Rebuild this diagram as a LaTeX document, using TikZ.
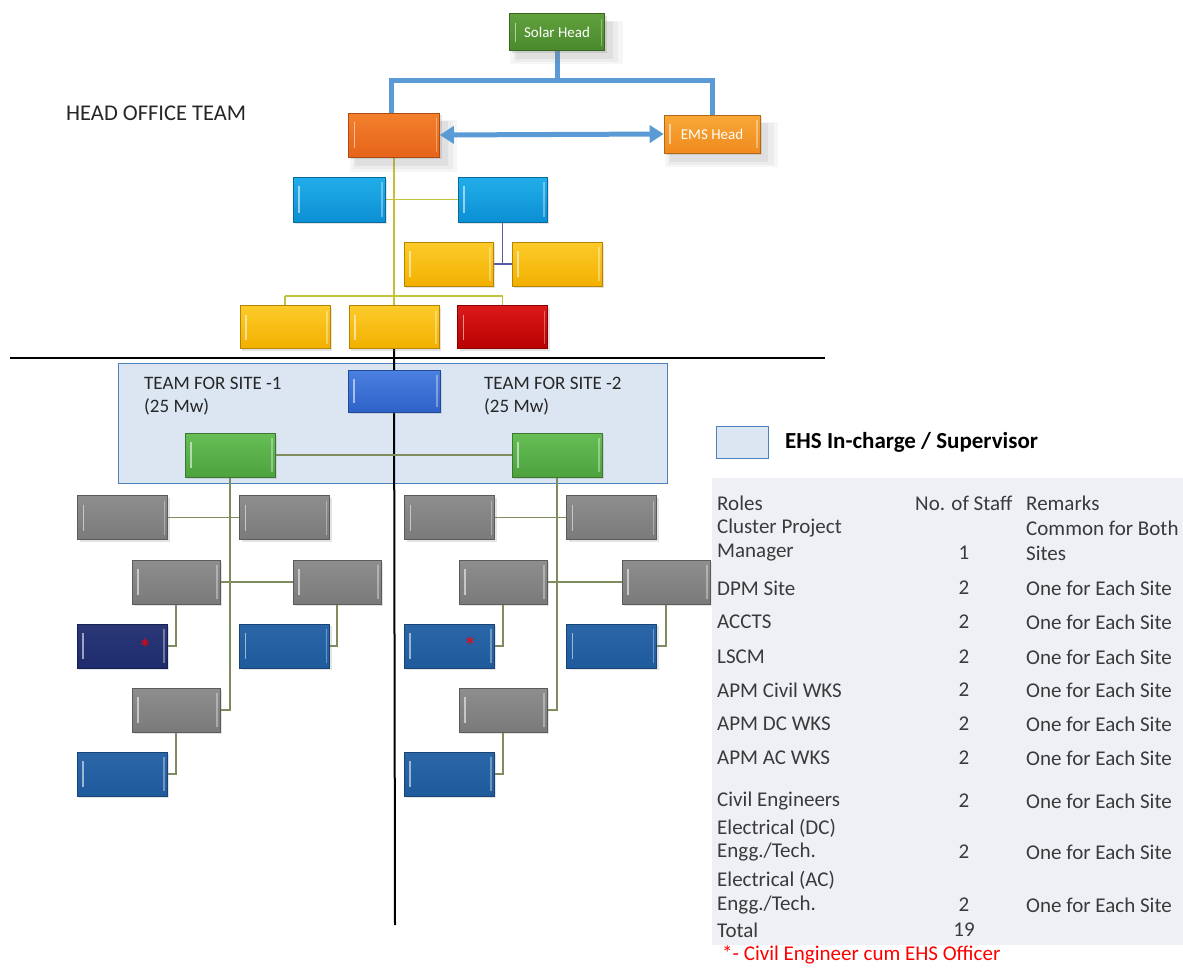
\documentclass[tikz,border=0pt]{standalone}
\usepackage{fontspec}
\setmainfont{Carlito}
\usetikzlibrary{arrows.meta,shadows}
\definecolor{conblue}{HTML}{5B9BD5}
\definecolor{ylline}{HTML}{C2C23A}
\definecolor{siteline}{HTML}{7F8C5E}
\definecolor{ehsfill}{HTML}{DCE6F2}
\definecolor{ehsdraw}{HTML}{4F81BD}
\definecolor{tabbg}{HTML}{EEF0F5}
\definecolor{tabtext}{HTML}{3A3A3A}
\definecolor{cyanA}{HTML}{22AEEA}\definecolor{cyanB}{HTML}{0B8FD3}
\definecolor{yelA}{HTML}{FDCB2A}\definecolor{yelB}{HTML}{F2B000}
\definecolor{redA}{HTML}{DC1A1A}\definecolor{redB}{HTML}{B80000}
\definecolor{cpmA}{HTML}{4A80E0}\definecolor{cpmB}{HTML}{2F62C8}
\definecolor{grnA}{HTML}{66BE55}\definecolor{grnB}{HTML}{4DA23E}
\definecolor{navyA}{HTML}{2A3878}\definecolor{navyB}{HTML}{1E2B6C}
\definecolor{dblueA}{HTML}{2A66A8}\definecolor{dblueB}{HTML}{1F5B9C}
\definecolor{greyA}{HTML}{8E8E8E}\definecolor{greyB}{HTML}{7A7A7A}
\definecolor{solA}{HTML}{62A03E}\definecolor{solB}{HTML}{4A8A2C}
\definecolor{phA}{HTML}{F3802C}\definecolor{phB}{HTML}{E5641A}
\definecolor{emsA}{HTML}{F8A838}\definecolor{emsB}{HTML}{F08A1E}
\pgfdeclarelayer{bg}
\pgfsetlayers{bg,main}
\tikzset{
  orgbox/.style n args={4}{rectangle, minimum width=#1, minimum height=#2, inner sep=0pt,
    top color=#3, bottom color=#4, draw=#4!75!black, line width=0.6pt,
    drop shadow={opacity=0.22, shadow xshift=2pt, shadow yshift=-2pt},
    path picture={\draw[white,opacity=0.55,line width=1.6pt]
      ([xshift=6pt,yshift=-9pt]path picture bounding box.north west) --
      ([xshift=6pt,yshift=9pt]path picture bounding box.south west);
      \draw[white,opacity=0.35,line width=1.4pt]
      ([xshift=-3pt,yshift=-5pt]path picture bounding box.north east) --
      ([xshift=-3pt,yshift=5pt]path picture bounding box.south east);}},
  greybox/.style={orgbox={90pt}{44pt}{greyA}{greyB}},
  navybox/.style={orgbox={90pt}{44pt}{navyA}{navyB}},
  dbluebox/.style={orgbox={90pt}{44pt}{dblueA}{dblueB}},
  bigshadow/.style={
    drop shadow={opacity=0.07, shadow xshift=8pt, shadow yshift=-9pt, shadow scale=1.18},
    drop shadow={opacity=0.09, shadow xshift=8pt, shadow yshift=-9pt, shadow scale=1.1},
    drop shadow={opacity=0.12, shadow xshift=7pt, shadow yshift=-8pt, shadow scale=1.02}},
  bluecon/.style={conblue, line width=5pt},
  ylcon/.style={ylline, line width=1.4pt},
  sitecon/.style={siteline, line width=1.2pt},
  blackline/.style={black, line width=2pt},
  tabtxt/.style={text=tabtext, font=\fontsize{21}{25}\selectfont, inner sep=0pt},
  headtxt/.style={text=black!85, font=\fontsize{22.5}{26}\selectfont, inner sep=0pt, anchor=west},
  wtxt/.style={text=white, font=\fontsize{15}{18}\selectfont},
  star/.style={text=red, font=\fontsize{26}{26}\selectfont, inner sep=0pt},
}
\begin{document}
\begin{tikzpicture}[x=1pt,y=-1pt]
\useasboundingbox (0,0) rectangle (1183,967);

% table background
\fill[tabbg] (712,478) rectangle (1183,945);

% ---------- head office ----------
\node[orgbox={95pt}{37pt}{solA}{solB}, bigshadow, wtxt] (solar) at (557,32) {Solar Head};
\node[orgbox={91pt}{44pt}{phA}{phB}, bigshadow] (ph) at (394,135) {};
\node[orgbox={96pt}{38pt}{emsA}{emsB}, bigshadow, wtxt] (ems) at (712,134) {EMS Head};

\node[headtxt] (hot) at (66,113) {HEAD OFFICE TEAM};

\node[orgbox={92pt}{45pt}{cyanA}{cyanB}] (b1) at (339,199.5) {};
\node[orgbox={89pt}{45pt}{cyanA}{cyanB}] (b2) at (502.5,199.5) {};
\node[orgbox={89pt}{44pt}{yelA}{yelB}] (y1) at (448.5,264) {};
\node[orgbox={90pt}{44pt}{yelA}{yelB}] (y2) at (557,264) {};
\node[orgbox={90pt}{43pt}{yelA}{yelB}] (y3) at (285,327) {};
\node[orgbox={90pt}{43pt}{yelA}{yelB}] (y4) at (394,327) {};
\node[orgbox={90pt}{43pt}{redA}{redB}] (rd) at (502.5,327) {};

% ---------- site teams ----------
\begin{pgfonlayer}{bg}
\fill[ehsfill] (118,363) rectangle (667,483);
\end{pgfonlayer}
\node[orgbox={92pt}{42pt}{cpmA}{cpmB}] (cpm) at (394,391) {};
\node[orgbox={90pt}{44pt}{grnA}{grnB}] (g1) at (230,455) {};
\node[orgbox={90pt}{44pt}{grnA}{grnB}] (g2) at (557,455) {};

\node[headtxt, font=\fontsize{19}{22}\selectfont] (s1a) at (144,383) {TEAM FOR SITE -1};
\node[headtxt, font=\fontsize{19}{22}\selectfont] (s1b) at (144,407) {(25 Mw)};
\node[headtxt, font=\fontsize{19}{22}\selectfont] (s2a) at (484,383) {TEAM FOR SITE -2};
\node[headtxt, font=\fontsize{19}{22}\selectfont] (s2b) at (484,407) {(25 Mw)};

% left group
\node[greybox] (la1) at (122.5,517.5) {};
\node[greybox] (la2) at (284.5,517.5) {};
\node[greybox, minimum width=88pt] (la3) at (176,582) {};
\node[greybox, minimum width=88pt] (la4) at (337,582) {};
\node[navybox] (la5) at (122,646) {};
\node[dbluebox] (la6) at (284.5,646) {};
\node[greybox, minimum width=88pt] (la7) at (176,710) {};
\node[dbluebox] (la8) at (122,774) {};
\node[star] (st1) at (145,648) {*};

% right group
\node[greybox] (ra1) at (449.5,517.5) {};
\node[greybox] (ra2) at (611.5,517.5) {};
\node[greybox, minimum width=88pt] (ra3) at (503,582) {};
\node[greybox, minimum width=88pt] (ra4) at (666,582) {};
\node[dbluebox] (ra5) at (449,646) {};
\node[dbluebox] (ra6) at (611.5,646) {};
\node[greybox, minimum width=88pt] (ra7) at (503,710) {};
\node[dbluebox] (ra8) at (449,774) {};
\node[star] (st2) at (470,646) {*};

% ---------- connectors ----------
\coordinate (jtop) at (557,80);
\coordinate (jbar) at (394,296);
\coordinate (jend) at (395,925);
\begin{pgfonlayer}{bg}
\draw[bluecon] (solar.south) -- (solar.south |- jtop);
\draw[bluecon, line join=miter] ([xshift=-3pt]ph.north) -- ([xshift=-3pt]ph.north |- jtop) -- (ems.north |- jtop) -- (ems.north);
\draw[ylcon] (ph.south) -- (y4.north);
\draw[ylcon] (b1.east) -- (b2.west);
\draw[gray!70!blue, line width=1.2pt] (b2.south) -- (b2.south |- y1.east);
\draw[gray!70!blue, line width=1.2pt] (y1.east) -- (y2.west);
\draw[ylcon] (y3.north |- jbar) -- (rd.north |- jbar);
\draw[ylcon] (y3.north) -- (y3.north |- jbar);
\draw[ylcon] (rd.north) -- (rd.north |- jbar);
\draw[ehsdraw, line width=1pt] (118,363) rectangle (667,483);
\draw[blackline] (y4.south) -- (jend);
% site connectors
\draw[sitecon] (g1.east) -- (g2.west);
\draw[sitecon] (g1.south) -- (g1.south |- la7.east) -- (la7.east);
\draw[sitecon] (g2.south) -- (g2.south |- ra7.east) -- (ra7.east);
\draw[sitecon] (la1.east) -- (la2.west);
\draw[sitecon] (la3.east) -- (la4.west);
\draw[sitecon] (la3.south) -- (la3.south |- la5.east) -- (la5.east);
\draw[sitecon] (la4.south) -- (la4.south |- la6.east) -- (la6.east);
\draw[sitecon] (la7.south) -- (la7.south |- la8.east) -- (la8.east);
\draw[sitecon] (ra1.east) -- (ra2.west);
\draw[sitecon] (ra3.east) -- (ra4.west);
\draw[sitecon] (ra3.south) -- (ra3.south |- ra5.east) -- (ra5.east);
\draw[sitecon] (ra4.south) -- (ra4.south |- ra6.east) -- (ra6.east);
\draw[sitecon] (ra7.south) -- (ra7.south |- ra8.east) -- (ra8.east);
\end{pgfonlayer}
\draw[bluecon, {Triangle[length=14pt,width=17pt]}-{Triangle[length=14pt,width=17pt]}] (ph.east) -- (ems.west);
\coordinate (hl) at (10,358);
\coordinate (hr) at (825,358);
\draw[blackline] (hl) -- (hr);

% ---------- legend & table ----------
\node[rectangle, minimum width=52pt, minimum height=32pt, fill=ehsfill, draw=ehsdraw, line width=1pt] (leg) at (742,442) {};
\node[anchor=west, inner sep=0pt, font=\bfseries\fontsize{23}{27}\selectfont] (legt) at (785,442) {EHS In-charge / Supervisor};

\node[tabtxt, anchor=west] (r0a) at (717,503) {Roles};
\node[tabtxt, anchor=west] (r0b) at (915,503) {No. of Staff};
\node[tabtxt, anchor=west] (r0c) at (1026,503) {Remarks};
\node[tabtxt, anchor=west] (r1a) at (717,528) {Cluster Project};
\node[tabtxt, anchor=west] (r1c) at (1026,528) {Common for Both};
\node[tabtxt, anchor=west] (r2a) at (717,553) {Manager};
\node[tabtxt] (r2b) at (964,553) {1};
\node[tabtxt, anchor=west] (r2c) at (1026,553) {Sites};
\foreach \n/\r/\y in {r3/DPM Site/588, r4/ACCTS/622, r5/LSCM/657, r6/APM Civil WKS/690, r7/APM DC WKS/724, r8/APM AC WKS/758, r9/Civil Engineers/801}{
  \node[tabtxt, anchor=west] (\n a) at (717,\y) {\r};
  \node[tabtxt] (\n b) at (964,\y) {2};
  \node[tabtxt, anchor=west] (\n c) at (1026,\y) {One for Each Site};
}
\node[tabtxt, anchor=west] (r10a) at (717,828) {Electrical (DC)};
\node[tabtxt, anchor=west] (r11a) at (717,852) {Engg./Tech.};
\node[tabtxt] (r11b) at (964,852) {2};
\node[tabtxt, anchor=west] (r11c) at (1026,852) {One for Each Site};
\node[tabtxt, anchor=west] (r12a) at (717,880) {Electrical (AC)};
\node[tabtxt, anchor=west] (r13a) at (717,905) {Engg./Tech.};
\node[tabtxt] (r13b) at (964,905) {2};
\node[tabtxt, anchor=west] (r13c) at (1026,905) {One for Each Site};
\node[tabtxt, anchor=west] (r14a) at (717,930) {Total};
\node[tabtxt] (r14b) at (964,930) {19};
\node[anchor=west, inner sep=0pt, text=red, font=\fontsize{21}{25}\selectfont] (foot) at (722,955) {*- Civil Engineer cum EHS Officer};
\end{tikzpicture}
\end{document}
